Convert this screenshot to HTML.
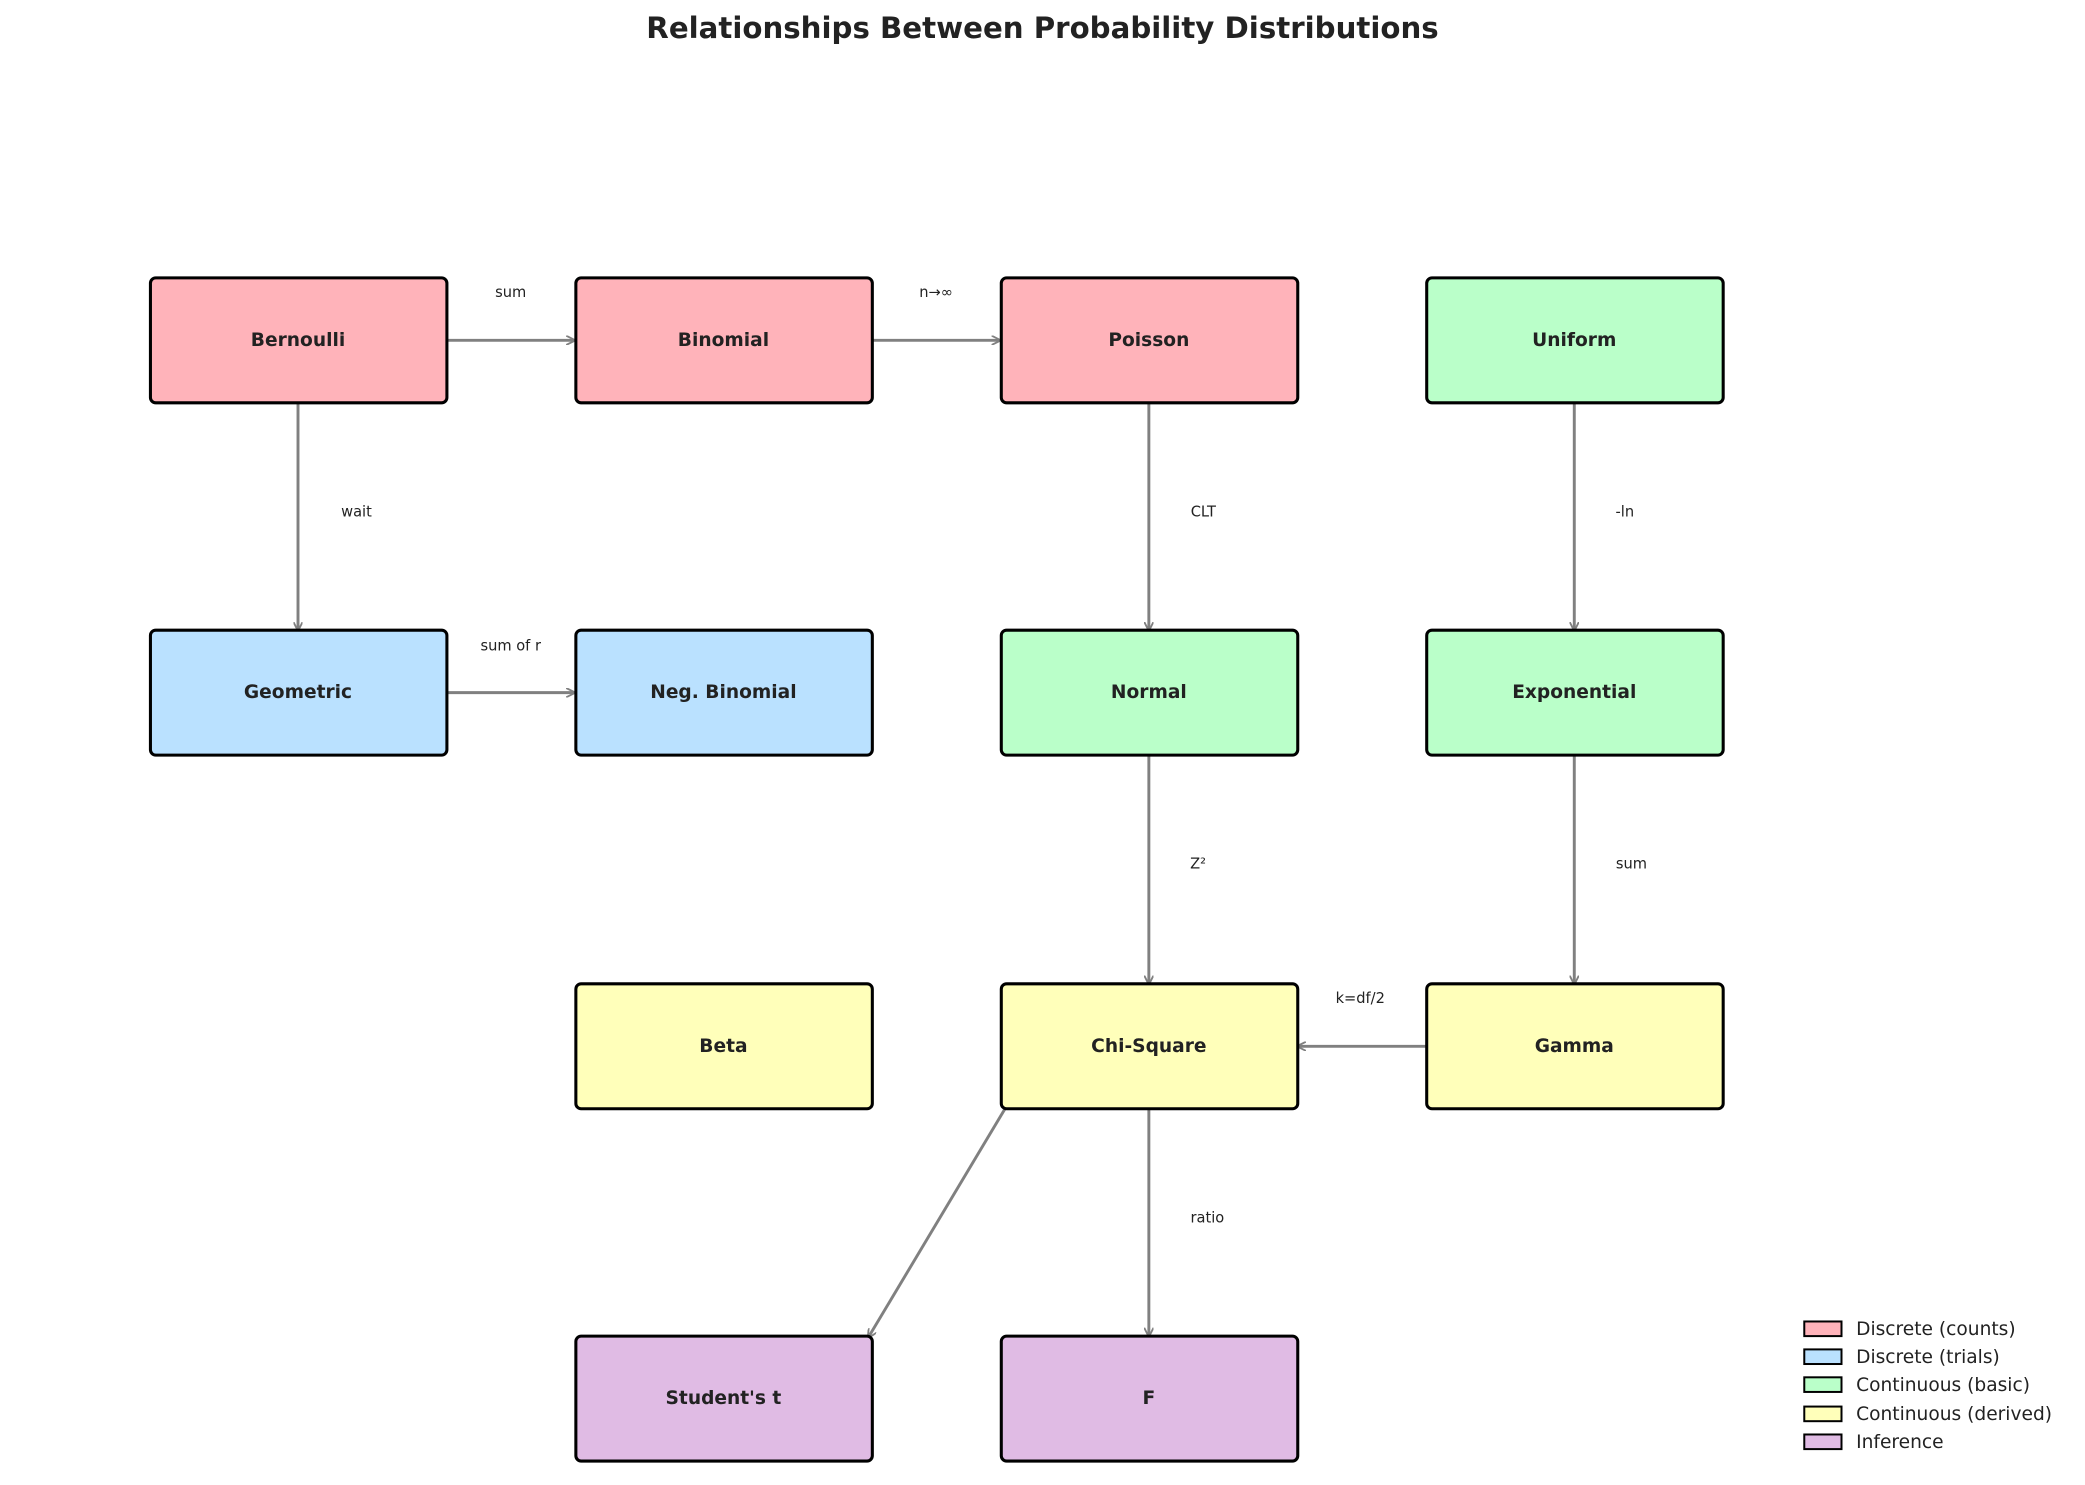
<!DOCTYPE html>
<html><head><meta charset="utf-8"><style>
html,body{margin:0;padding:0;background:#fff;}
svg{display:block;}
text{font-family:"DejaVu Sans","Liberation Sans",sans-serif;fill:#222;}
.n{font-size:14px;font-weight:bold;text-anchor:middle;dominant-baseline:central;}
.l{font-size:11px;text-anchor:middle;dominant-baseline:central;}
.b{stroke:#000;stroke-width:2.3;}
.a{stroke:#808080;stroke-width:2.2;fill:none;}
.lg{font-size:14px;dominant-baseline:central;}
</style></head><body>
<svg width="2085" height="1485" viewBox="0 0 1568 1117" xmlns="http://www.w3.org/2000/svg">
<defs><marker id="m" viewBox="0 0 10 10" refX="9" refY="5" markerWidth="7" markerHeight="7" orient="auto" markerUnits="userSpaceOnUse"><path d="M0,0 L10,5 L0,10" fill="none" stroke="#808080" stroke-width="2"/></marker></defs>
<text x="784" y="21" style="font-size:22px;font-weight:bold;text-anchor:middle;dominant-baseline:central">Relationships Between Probability Distributions</text>
<g class="a">
<line x1="336" y1="256" x2="432" y2="256" marker-end="url(#m)"/>
<line x1="656" y1="256" x2="752" y2="256" marker-end="url(#m)"/>
<line x1="224" y1="303" x2="224" y2="474" marker-end="url(#m)"/>
<line x1="864" y1="303" x2="864" y2="474" marker-end="url(#m)"/>
<line x1="1184" y1="303" x2="1184" y2="474" marker-end="url(#m)"/>
<line x1="336" y1="521" x2="432" y2="521" marker-end="url(#m)"/>
<line x1="864" y1="569" x2="864" y2="740" marker-end="url(#m)"/>
<line x1="1184" y1="569" x2="1184" y2="740" marker-end="url(#m)"/>
<line x1="1073" y1="787" x2="976" y2="787" marker-end="url(#m)"/>
<line x1="864" y1="834" x2="864" y2="1005" marker-end="url(#m)"/>
<line x1="757" y1="832" x2="653" y2="1006" marker-end="url(#m)"/>
</g>
<g class="b">
<rect x="113" y="209" width="223" height="94" rx="4" fill="#FFB3BA"/>
<rect x="433" y="209" width="223" height="94" rx="4" fill="#FFB3BA"/>
<rect x="753" y="209" width="223" height="94" rx="4" fill="#FFB3BA"/>
<rect x="1073" y="209" width="223" height="94" rx="4" fill="#BAFFC9"/>
<rect x="113" y="474" width="223" height="94" rx="4" fill="#BAE1FF"/>
<rect x="433" y="474" width="223" height="94" rx="4" fill="#BAE1FF"/>
<rect x="753" y="474" width="223" height="94" rx="4" fill="#BAFFC9"/>
<rect x="1073" y="474" width="223" height="94" rx="4" fill="#BAFFC9"/>
<rect x="433" y="740" width="223" height="94" rx="4" fill="#FFFFBA"/>
<rect x="753" y="740" width="223" height="94" rx="4" fill="#FFFFBA"/>
<rect x="1073" y="740" width="223" height="94" rx="4" fill="#FFFFBA"/>
<rect x="433" y="1005" width="223" height="94" rx="4" fill="#E0BBE4"/>
<rect x="753" y="1005" width="223" height="94" rx="4" fill="#E0BBE4"/>
</g>
<text class="n" x="224" y="256">Bernoulli</text>
<text class="n" x="544" y="256">Binomial</text>
<text class="n" x="864" y="256">Poisson</text>
<text class="n" x="1184" y="256">Uniform</text>
<text class="n" x="224" y="521">Geometric</text>
<text class="n" x="544" y="521">Neg. Binomial</text>
<text class="n" x="864" y="521">Normal</text>
<text class="n" x="1184" y="521">Exponential</text>
<text class="n" x="544" y="787">Beta</text>
<text class="n" x="864" y="787">Chi-Square</text>
<text class="n" x="1184" y="787">Gamma</text>
<text class="n" x="544" y="1052">Student's t</text>
<text class="n" x="864" y="1052">F</text>
<text class="l" x="384" y="220">sum</text>
<text class="l" x="704" y="220">n→∞</text>
<text class="l" x="268" y="385">wait</text>
<text class="l" x="905" y="385">CLT</text>
<text class="l" x="1222" y="385">-ln</text>
<text class="l" x="384" y="486">sum of r</text>
<text class="l" x="901" y="650">Z²</text>
<text class="l" x="1227" y="650">sum</text>
<text class="l" x="1023" y="751">k=df/2</text>
<text class="l" x="908" y="916">ratio</text>
<g stroke="#000" stroke-width="1.5">
<rect x="1357" y="994" width="28" height="11" fill="#FFB3BA"/>
<rect x="1357" y="1015" width="28" height="11" fill="#BAE1FF"/>
<rect x="1357" y="1036" width="28" height="11" fill="#BAFFC9"/>
<rect x="1357" y="1058" width="28" height="11" fill="#FFFFBA"/>
<rect x="1357" y="1079" width="28" height="11" fill="#E0BBE4"/>
</g>
<text class="lg" x="1396" y="1000">Discrete (counts)</text>
<text class="lg" x="1396" y="1021">Discrete (trials)</text>
<text class="lg" x="1396" y="1042">Continuous (basic)</text>
<text class="lg" x="1396" y="1064">Continuous (derived)</text>
<text class="lg" x="1396" y="1085">Inference</text>
</svg>
</body></html>
